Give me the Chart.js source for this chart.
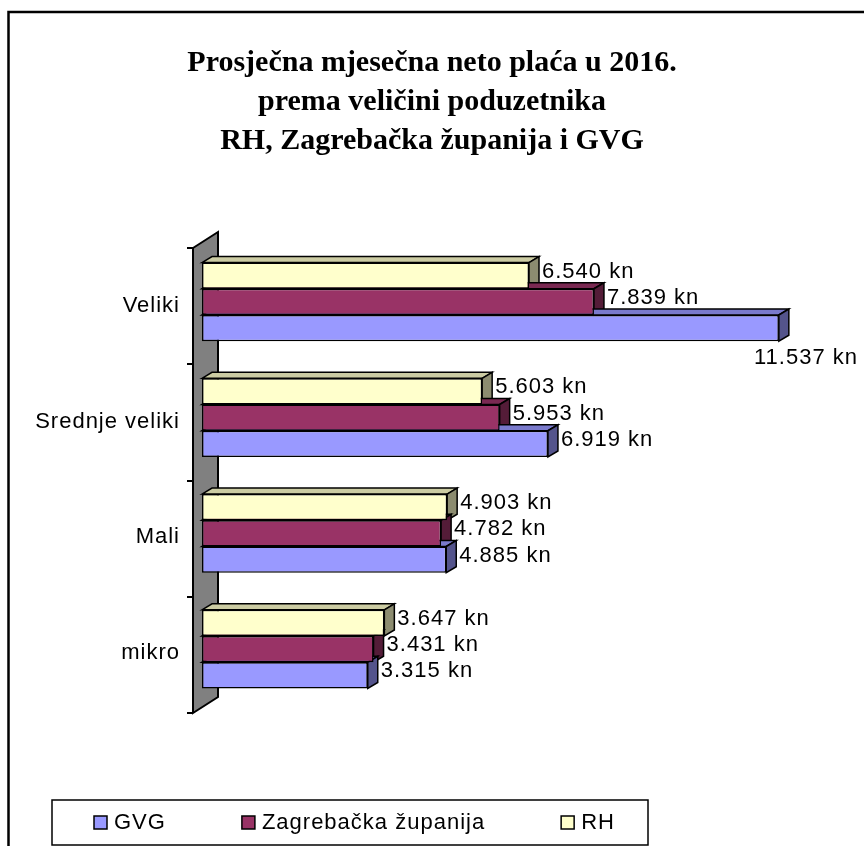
<!DOCTYPE html>
<html>
<head>
<meta charset="utf-8">
<script src="https://cdn.jsdelivr.net/npm/chart.js@4/dist/chart.umd.min.js"></script>
<style>
  html, body { margin: 0; padding: 0; background: #fff; overflow: hidden; }
  canvas { display: block; }
</style>
</head>
<body>
<canvas id="placeChart" width="864" height="846"></canvas>
<script>
const categories = ['Veliki', 'Srednje veliki', 'Mali', 'mikro'];
const gvg = [11537, 6919, 4885, 3315];
const zagreb = [7839, 5953, 4782, 3431];
const rh = [6540, 5603, 4903, 3647];

const titleLines = [
    'Prosječna mjesečna neto plaća u 2016.',
    'prema veličini poduzetnika',
    'RH, Zagrebačka županija i GVG'
];

const sansFont = "'Liberation Sans', Arial, sans-serif";
const spacing = '1px';
const depth = { dx: 10, dy: 6 };

function shade(hex, f) {
    const n = parseInt(hex.slice(1), 16);
    const r = Math.round(((n >> 16) & 255) * f);
    const g = Math.round(((n >> 8) & 255) * f);
    const b = Math.round((n & 255) * f);
    return `rgb(${r}, ${g}, ${b})`;
}

function formatKn(v) {
    return String(v).replace(/\B(?=(\d{3})+(?!\d))/g, '.') + ' kn';
}

function poly(ctx, pts, fill) {
    ctx.beginPath();
    ctx.moveTo(pts[0][0], pts[0][1]);
    for (let i = 1; i < pts.length; i++) ctx.lineTo(pts[i][0], pts[i][1]);
    ctx.closePath();
    ctx.fillStyle = fill;
    ctx.fill();
    ctx.stroke();
}

// wall, 3d faces, value labels, legend box and outer frame
const excelLook = {
    id: 'excelLook',
    beforeLayout(chart) {
        chart.ctx.letterSpacing = spacing;
    },
    beforeDraw(chart) {
        const ctx = chart.ctx;
        ctx.letterSpacing = '0px';
        ctx.save();
        ctx.strokeStyle = '#000';
        ctx.lineWidth = 2.5;
        ctx.beginPath();
        ctx.moveTo(8.5, chart.height);
        ctx.lineTo(8.5, 12);
        ctx.lineTo(chart.width, 12);
        ctx.stroke();
        ctx.restore();
    },
    beforeDatasetsDraw(chart) {
        const ctx = chart.ctx;
        const area = chart.chartArea;
        const left = area.left - 9;
        const top = area.top + 4;
        const bottom = area.bottom + 6;

        ctx.save();
        ctx.strokeStyle = '#000';
        ctx.lineWidth = 2;
        poly(ctx, [[left, top], [left + 25, top - 16], [left + 25, bottom - 16], [left, bottom]], '#808080');

        const step = (bottom - top) / categories.length;
        ctx.beginPath();
        for (let k = 0; k <= categories.length; k++) {
            const ty = Math.round(top + k * step);
            ctx.moveTo(left - 6, ty);
            ctx.lineTo(left, ty);
        }
        ctx.stroke();

        ctx.lineWidth = 1.5;
        chart.data.datasets.forEach((ds, di) => {
            chart.getDatasetMeta(di).data.forEach(el => {
                const t = el.y - el.height / 2;
                const b = el.y + el.height / 2;
                poly(ctx, [[el.base, t], [el.base + depth.dx, t - depth.dy], [el.x + depth.dx, t - depth.dy], [el.x, t]], shade(ds.backgroundColor, 0.8));
                poly(ctx, [[el.x, t], [el.x + depth.dx, t - depth.dy], [el.x + depth.dx, b - depth.dy], [el.x, b]], shade(ds.backgroundColor, 0.55));
            });
        });
        ctx.restore();
    },
    afterDatasetsDraw(chart) {
        const ctx = chart.ctx;
        ctx.letterSpacing = spacing;
        ctx.save();
        ctx.font = `22px ${sansFont}`;
        ctx.fillStyle = '#000';
        ctx.textBaseline = 'middle';
        chart.data.datasets.forEach((ds, di) => {
            chart.getDatasetMeta(di).data.forEach((el, i) => {
                const txt = formatKn(ds.data[i]);
                const w = ctx.measureText(txt).width;
                const x = el.x + 13;
                if (x + w > chart.width - 4) {
                    ctx.textAlign = 'right';
                    ctx.fillText(txt, chart.width - 6, el.y + el.height / 2 + 17);
                } else {
                    ctx.textAlign = 'left';
                    ctx.fillText(txt, x, el.y - 4);
                }
            });
        });
        ctx.restore();
    },
    afterDraw(chart) {
        const ctx = chart.ctx;
        ctx.save();
        ctx.letterSpacing = spacing;
        ctx.strokeStyle = '#000';
        ctx.lineWidth = 1.5;
        ctx.strokeRect(52, 800, 596, 45);

        ctx.font = `22px ${sansFont}`;
        ctx.textBaseline = 'middle';
        ctx.textAlign = 'left';
        let x = 94;
        const cy = 823;
        chart.data.datasets.slice().reverse().forEach(ds => {
            ctx.fillStyle = ds.backgroundColor;
            ctx.fillRect(x, cy - 7, 13, 13);
            ctx.strokeRect(x, cy - 7, 13, 13);
            ctx.fillStyle = '#000';
            ctx.fillText(ds.label, x + 20, cy);
            x += 20 + ctx.measureText(ds.label).width + 76;
        });
        ctx.restore();
    }
};

new Chart(document.getElementById('placeChart'), {
    type: 'bar',
    data: {
        labels: categories,
        datasets: [
            { label: 'RH', data: rh, backgroundColor: '#FFFFCC' },
            { label: 'Zagrebačka županija', data: zagreb, backgroundColor: '#993366' },
            { label: 'GVG', data: gvg, backgroundColor: '#9999FF' }
        ]
    },
    options: {
        indexAxis: 'y',
        responsive: false,
        animation: false,
        events: [],
        layout: { padding: { left: 12, right: 12, top: 0, bottom: 139 } },
        datasets: {
            bar: {
                borderColor: '#000',
                borderWidth: 1.5,
                borderSkipped: false,
                categoryPercentage: 0.68,
                barPercentage: 1
            }
        },
        scales: {
            x: { display: false, min: 0, max: 13000 },
            y: {
                grid: { display: false, drawTicks: false },
                border: { display: false },
                ticks: {
                    z: 1,
                    color: '#000',
                    padding: 22,
                    labelOffset: 4,
                    font: { family: sansFont, size: 22 }
                },
                afterFit: (scale) => { scale.width = 190; }
            }
        },
        plugins: {
            legend: { display: false },
            tooltip: { enabled: false },
            title: {
                display: true,
                text: titleLines,
                color: '#000',
                font: { family: "'Liberation Serif', 'Times New Roman', serif", size: 30, weight: 'bold', lineHeight: 1.3 },
                padding: { top: 44, bottom: 83 }
            }
        }
    },
    plugins: [excelLook]
});
</script>
</body>
</html>
